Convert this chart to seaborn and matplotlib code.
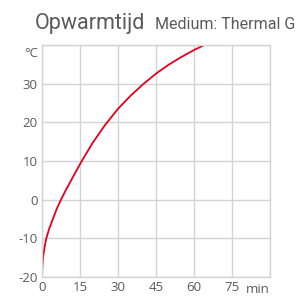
import seaborn as sns
import matplotlib.pyplot as plt
import pandas as pd

# warm-up curve
minutes = [0, 0.1, 0.4, 1.0, 1.7, 2.8, 4.3, 5.8, 7.5, 9.5, 11.5, 13.5, 15.7,
           20, 25, 30, 35, 40, 45, 50, 55, 60, 65]
temp_c = [-20, -17.8, -15, -12.3, -10, -7.6, -5, -2.4, 0, 2.6, 5, 7.4, 10,
          14.7, 19.4, 23.5, 26.9, 29.9, 32.6, 34.9, 36.9, 38.7, 40.3]
x_ticks = [0, 15, 30, 45, 60, 75]
y_ticks = [-20, -10, 0, 10, 20, 30]

df = pd.DataFrame({"min": minutes, "temp": temp_c})

sns.set_style("white")
plt.rcParams['font.family'] = ['Open Sans', 'DejaVu Sans']

grey = '#5a5a5a'
grid = '#d3d3d3'

fig = plt.figure(figsize=(3.07, 3.0), dpi=100)
ax = fig.add_axes([42/307, 23/300, 228/307, 232/300])

sns.lineplot(x="min", y="temp", data=df, ax=ax, color='#e3001b', linewidth=1.3)

ax.set_xlim(0, 90)
ax.set_ylim(-20, 40)
ax.set_xticks(x_ticks + [90])
ax.set_yticks(y_ticks + [40])
ax.set_xticklabels([str(t) for t in x_ticks] + [''])
ax.set_yticklabels([str(t) for t in y_ticks] + [''])
ax.grid(True, color=grid, linewidth=1)
ax.tick_params(length=0, labelsize=9.5, labelcolor=grey, pad=3)
for s in ax.spines.values():
    s.set_color(grid)
    s.set_linewidth(1)
ax.set_xlabel('')
ax.set_ylabel('')

ax.text(90, -0.025, 'min', transform=ax.get_xaxis_transform(), ha='right', va='top',
        fontsize=9.5, color=grey)
ax.text(-0.018, 0.99, '°C', transform=ax.transAxes, ha='right', va='top',
        fontsize=9.5, color=grey)

fig.text(35/307, 1 - 29/300, 'Opwarmtijd', fontsize=15.5, color=grey,
         family=['Roboto', 'DejaVu Sans'], va='baseline')
fig.text(155/307, 1 - 29/300, 'Medium: Thermal G', fontsize=11.5, color=grey,
         family=['Roboto', 'DejaVu Sans'], va='baseline')

fig.savefig('out.png', dpi=100)
